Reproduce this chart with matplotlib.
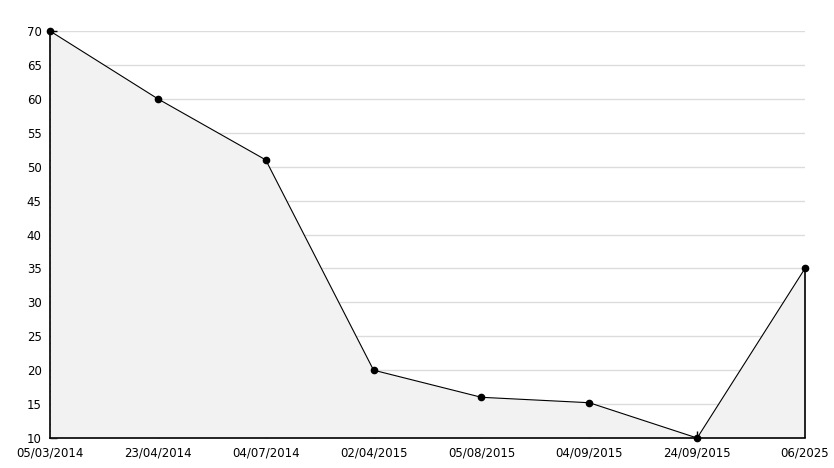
import matplotlib
matplotlib.use("Agg")
import matplotlib.pyplot as plt
from matplotlib.ticker import MultipleLocator

# Data
dates = ["05/03/2014", "23/04/2014", "04/07/2014", "02/04/2015",
         "05/08/2015", "04/09/2015", "24/09/2015", "06/2025"]
values = [70, 60, 51, 20, 16, 15.2, 10, 35]

fig = plt.figure(figsize=(8.34, 4.68), dpi=100)
ax = fig.add_axes([50 / 834, 30 / 468, 755 / 834, 407 / 468])

x = list(range(len(dates)))
ymin, ymax = 10, 70

# Grid lines at major ticks
ax.set_axisbelow(True)
ax.yaxis.grid(True, which="major", color="#dcdcdc", linewidth=1)

# Filled area under the line
ax.fill_between(x, values, ymin, color="#f2f2f2", linewidth=0, zorder=1)
ax.vlines(x[-1], ymin, values[-1], color="black", linewidth=1.2, zorder=2,
          clip_on=False)
ax.plot(x, values, color="black", linewidth=0.8, marker="o", markersize=4.5,
        zorder=3, clip_on=False)

ax.set_xlim(x[0], x[-1])
ax.set_ylim(ymin, ymax)
ax.set_xticks(x)
ax.set_xticklabels(dates)
ax.yaxis.set_major_locator(MultipleLocator(5))
ax.yaxis.set_minor_locator(MultipleLocator(1))

for side in ["top", "right"]:
    ax.spines[side].set_visible(False)
for side in ["left", "bottom"]:
    ax.spines[side].set_linewidth(1.2)

ax.tick_params(axis="y", which="major", direction="in", length=5, width=1,
               labelsize=8.5, pad=6)
ax.tick_params(axis="y", which="minor", direction="in", length=3, width=1)
ax.tick_params(axis="x", which="major", direction="in", length=5, width=1,
               labelsize=8.5, pad=6)

# no tick marks at the two end categories
xticks = ax.xaxis.get_major_ticks()
for t in (xticks[0], xticks[-1]):
    t.tick1line.set_visible(False)

fig.savefig("out.png", dpi=100)
